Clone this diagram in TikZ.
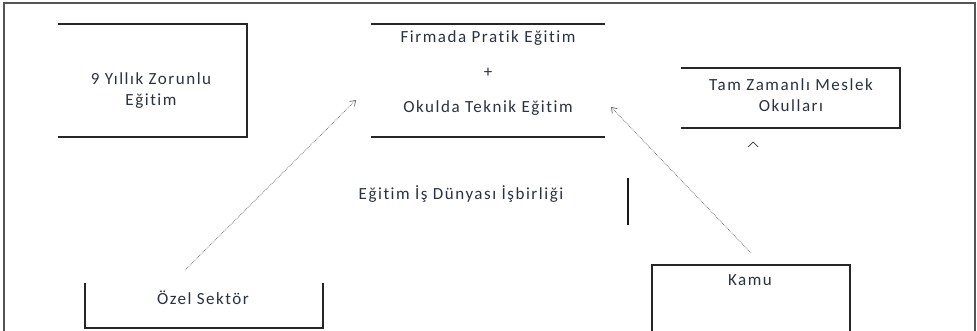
\documentclass[tikz,border=0pt]{standalone}
\usepackage{fontspec}
\setmainfont{Carlito}[LetterSpace=9,Ligatures={NoCommon}]
\usetikzlibrary{arrows.meta}
\definecolor{txt}{HTML}{2A3140}
\definecolor{frame}{HTML}{555555}
\begin{document}
\begin{tikzpicture}[x=1pt,y=-1pt,
  lbl/.style={font=\fontsize{17}{21}\selectfont, text=txt, align=center, inner sep=0pt},
  boxline/.style={line width=1.6pt, draw=black!85},
  conn/.style={line width=0.7pt, draw=black!60, densely dotted, -{Straight Barb[length=5pt,width=7pt,line width=0.7pt]}}]
\useasboundingbox (0,0) rectangle (977,331);
% outer frame
\draw[line width=1.6pt, draw=frame] (4,331) -- (4,3) -- (975,3) -- (975,331);
% box 1: 9 Yillik
\draw[boxline] (58,24) -- (247,24) -- (247,137) -- (58,137);
\node[lbl] (zorunlu) at (151,91) {9 Yıllık Zorunlu\\Eğitim};
% center box
\draw[boxline] (371,24) -- (605,24);
\draw[boxline] (371,137) -- (605,137);
\node[lbl] (firma) at (488,38) {Firmada Pratik Eğitim};
\node[lbl] (plus) at (488,73) {+};
\node[lbl] (okul) at (488,108) {Okulda Teknik Eğitim};
% box 3: Tam Zamanli
\draw[boxline] (681,68) -- (900,68) -- (900,128) -- (681,128);
\node[lbl] (tam) at (791,95) {Tam Zamanlı Meslek\\Okulları};
\draw[line width=0.7pt, black!80] (748,147) -- (753,142) -- (758,147);
% middle label
\node[lbl] (isbirligi) at (461,194) {Eğitim İş Dünyası İşbirliği};
\draw[line width=1.6pt, black!90] (628,178) -- (628,225);
% Ozel Sektor
\draw[boxline] (85,283) -- (85,328) -- (323,328) -- (323,283);
\node[lbl] (ozel) at (203,298) {Özel Sektör};
% Kamu
\draw[boxline] (652,331) -- (652,265) -- (850,265) -- (850,331);
\node[lbl] (kamu) at (750,280) {Kamu};
% connectors
\coordinate (a1s) at (185,270);
\coordinate (a1e) at (356,100);
\coordinate (a2s) at (751,253);
\coordinate (a2e) at (611,107);
\draw[conn] (a1s) -- (a1e);
\draw[conn] (a2s) -- (a2e);
\end{tikzpicture}
\end{document}
